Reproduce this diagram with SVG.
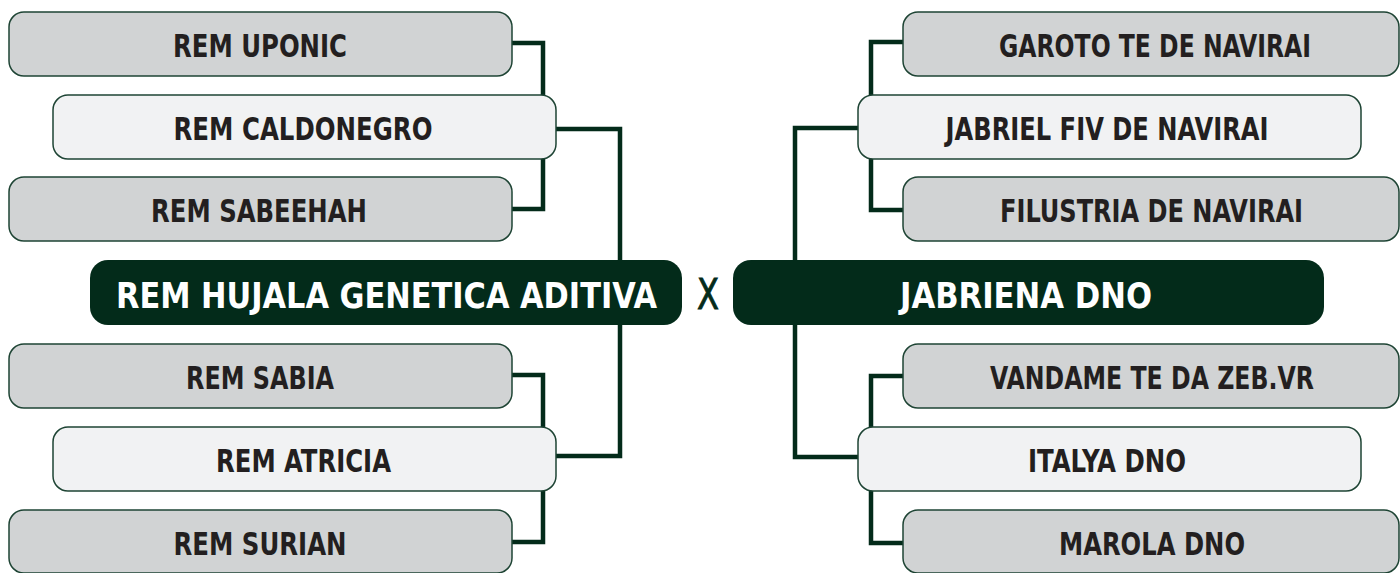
<svg xmlns="http://www.w3.org/2000/svg" width="1400" height="573" viewBox="0 0 1400 573">
<style>
.outer{fill:#D1D3D4;stroke:#1E4434;stroke-width:1.5}
.inner{fill:#F1F2F3;stroke:#1E4434;stroke-width:1.5}
.main{fill:#032B1A}
.lbl{font-family:"DejaVu Sans Condensed","Liberation Sans Narrow","Liberation Sans",sans-serif;font-weight:bold;font-size:32px;fill:#231F20;text-anchor:middle}
.mlbl{font-family:"DejaVu Sans Condensed","Liberation Sans Narrow","Liberation Sans",sans-serif;font-weight:bold;font-size:35px;fill:#FFFFFF;text-anchor:middle}
.x{font-family:"DejaVu Sans Condensed","Liberation Sans Narrow","Liberation Sans",sans-serif;font-size:43px;fill:#032B1A;stroke:#032B1A;stroke-width:0.9;text-anchor:middle}
.conn{fill:none;stroke:#032B1A;stroke-width:4.5;stroke-linejoin:miter}
</style>
<rect width="1400" height="573" fill="#FFFFFF"/>
<g id="connectors">
<path class="conn" d="M512,43 H543 V209 H512"/>
<path class="conn" d="M512,375 H543 V542 H512"/>
<path class="conn" d="M556,129 H620 V456 H556"/>
<path class="conn" d="M903,42 H871 V210 H903"/>
<path class="conn" d="M903,376 H871 V543 H903"/>
<path class="conn" d="M858,128 H795 V457 H858"/>
</g>
<g id="n-uponic"><rect class="outer" x="9" y="12" width="503" height="64" rx="15"/><text class="lbl" x="260" y="57" textLength="174" lengthAdjust="spacingAndGlyphs">REM UPONIC</text></g>
<g id="n-caldonegro"><rect class="inner" x="53" y="95" width="503" height="64" rx="15"/><text class="lbl" x="303" y="140" textLength="259" lengthAdjust="spacingAndGlyphs">REM CALDONEGRO</text></g>
<g id="n-sabeehah"><rect class="outer" x="9" y="177" width="503" height="64" rx="15"/><text class="lbl" x="259" y="222" textLength="216" lengthAdjust="spacingAndGlyphs">REM SABEEHAH</text></g>
<g id="n-hujala"><rect class="main" x="90" y="260" width="592" height="65" rx="18"/><text class="mlbl" x="386.5" y="308" textLength="541" lengthAdjust="spacingAndGlyphs">REM HUJALA GENETICA ADITIVA</text></g>
<g id="n-sabia"><rect class="outer" x="9" y="344" width="503" height="64" rx="15"/><text class="lbl" x="260" y="389" textLength="148" lengthAdjust="spacingAndGlyphs">REM SABIA</text></g>
<g id="n-atricia"><rect class="inner" x="53" y="427" width="503" height="64" rx="15"/><text class="lbl" x="303.5" y="472" textLength="175" lengthAdjust="spacingAndGlyphs">REM ATRICIA</text></g>
<g id="n-surian"><rect class="outer" x="9" y="510" width="503" height="63" rx="15"/><text class="lbl" x="260" y="555" textLength="173" lengthAdjust="spacingAndGlyphs">REM SURIAN</text></g>
<g id="x-mark"><text class="x" x="708" y="309" textLength="22" lengthAdjust="spacingAndGlyphs">X</text></g>
<g id="n-jabriena"><rect class="main" x="733" y="260" width="591" height="65" rx="18"/><text class="mlbl" x="1026" y="308" textLength="252" lengthAdjust="spacingAndGlyphs">JABRIENA DNO</text></g>
<g id="n-garoto"><rect class="outer" x="903" y="12" width="496" height="64" rx="15"/><text class="lbl" x="1155" y="57" textLength="312" lengthAdjust="spacingAndGlyphs">GAROTO TE DE NAVIRAI</text></g>
<g id="n-jabriel"><rect class="inner" x="858" y="95" width="503" height="64" rx="15"/><text class="lbl" x="1107" y="140" textLength="323" lengthAdjust="spacingAndGlyphs">JABRIEL FIV DE NAVIRAI</text></g>
<g id="n-filustria"><rect class="outer" x="903" y="177" width="496" height="64" rx="15"/><text class="lbl" x="1151.5" y="222" textLength="303" lengthAdjust="spacingAndGlyphs">FILUSTRIA DE NAVIRAI</text></g>
<g id="n-vandame"><rect class="outer" x="903" y="344" width="496" height="64" rx="15"/><text class="lbl" x="1152" y="389" textLength="324" lengthAdjust="spacingAndGlyphs">VANDAME TE DA ZEB.VR</text></g>
<g id="n-italya"><rect class="inner" x="858" y="427" width="503" height="64" rx="15"/><text class="lbl" x="1107" y="472" textLength="158" lengthAdjust="spacingAndGlyphs">ITALYA DNO</text></g>
<g id="n-marola"><rect class="outer" x="903" y="510" width="496" height="63" rx="15"/><text class="lbl" x="1152" y="555" textLength="186" lengthAdjust="spacingAndGlyphs">MAROLA DNO</text></g>
</svg>
